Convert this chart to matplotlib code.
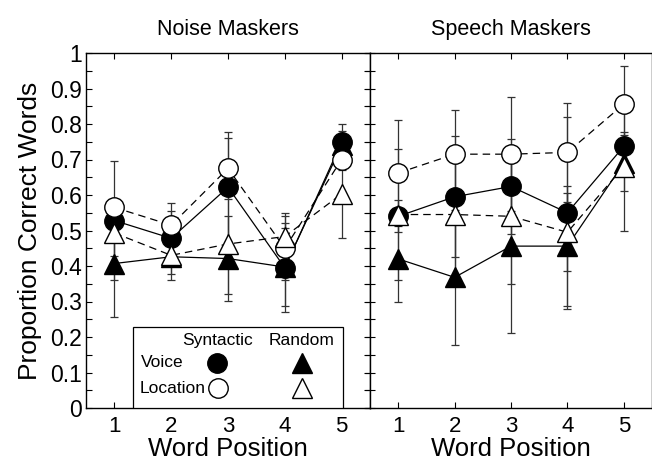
import numpy as np
import matplotlib.pyplot as plt
from matplotlib.ticker import MultipleLocator

plt.rcParams["font.family"] = ["Liberation Sans", "DejaVu Sans"]

positions = [1, 2, 3, 4, 5]

# Noise maskers
noise_voice_syn = [0.528, 0.478, 0.622, 0.395, 0.749]
noise_voice_syn_err = [0.167, 0.10, 0.155, 0.125, 0.05]
noise_loc_syn = [0.565, 0.515, 0.675, 0.45, 0.70]
noise_loc_syn_err = [0.015, 0.04, 0.085, 0.09, 0.03]
noise_voice_rand = [0.407, 0.426, 0.421, 0.397, 0.74]
noise_voice_rand_err = [0.15, 0.065, 0.12, 0.11, 0.04]
noise_loc_rand = [0.493, 0.43, 0.462, 0.483, 0.603]
noise_loc_rand_err = [0.065, 0.03, 0.14, 0.065, 0.125]

# Speech maskers
speech_voice_syn = [0.54, 0.595, 0.624, 0.55, 0.737]
speech_voice_syn_err = [0.045, 0.17, 0.135, 0.27, 0.04]
speech_loc_syn = [0.662, 0.715, 0.715, 0.72, 0.856]
speech_loc_syn_err = [0.15, 0.125, 0.16, 0.14, 0.107]
speech_voice_rand = [0.42, 0.368, 0.456, 0.456, 0.69]
speech_voice_rand_err = [0.12, 0.19, 0.245, 0.17, 0.08]
speech_loc_rand = [0.545, 0.545, 0.54, 0.495, 0.68]
speech_loc_rand_err = [0.185, 0.19, 0.19, 0.11, 0.18]

titles = ["Noise Maskers", "Speech Maskers"]
yticks = [0, 0.1, 0.2, 0.3, 0.4, 0.5, 0.6, 0.7, 0.8, 0.9, 1]
ytick_labels = ["0", "0.1", "0.2", "0.3", "0.4", "0.5", "0.6", "0.7", "0.8", "0.9", "1"]

MS = 14


def draw_panel(ax, vs, vse, ls, lse, vr, vre, lr, lre):
    series = [
        (vs, vse, "o", "black", "-"),
        (vr, vre, "^", "black", "-"),
        (ls, lse, "o", "white", (0, (6, 4))),
        (lr, lre, "^", "white", (0, (6, 4))),
    ]
    for vals, errs, mk, fc, style in series:
        ax.errorbar(positions, vals, yerr=errs, fmt="none", ecolor="#333333",
                    elinewidth=0.9, capsize=3, capthick=0.9, zorder=1)
    for vals, errs, mk, fc, style in series:
        ax.plot(positions, vals, linestyle=style, color="black", linewidth=0.9,
                marker=mk, markersize=MS, markerfacecolor=fc,
                markeredgecolor="black", markeredgewidth=1.0, zorder=3)
    ax.set_xlim(0.5, 5.5)
    ax.set_ylim(0, 1.0)
    ax.set_xticks(positions)
    ax.set_xticklabels([str(p) for p in positions], fontsize=16)
    ax.set_xlabel("Word Position", fontsize=18.5, labelpad=0)
    ax.tick_params(axis="x", direction="in", top=True, length=4, width=0.8, pad=6)
    for s in ax.spines.values():
        s.set_linewidth(1.0)


fig = plt.figure(figsize=(6.52, 4.67), dpi=100)
ax1 = fig.add_axes([86 / 652, 59 / 467, 284 / 652, 355 / 467])
ax2 = fig.add_axes([370 / 652, 59 / 467, 282 / 652, 355 / 467])

draw_panel(ax1, noise_voice_syn, noise_voice_syn_err, noise_loc_syn, noise_loc_syn_err,
           noise_voice_rand, noise_voice_rand_err, noise_loc_rand, noise_loc_rand_err)
draw_panel(ax2, speech_voice_syn, speech_voice_syn_err, speech_loc_syn, speech_loc_syn_err,
           speech_voice_rand, speech_voice_rand_err, speech_loc_rand, speech_loc_rand_err)

ax1.set_yticks(yticks)
ax1.set_yticklabels(ytick_labels, fontsize=16.5)
ax1.yaxis.set_minor_locator(MultipleLocator(0.05))
ax1.tick_params(axis="y", which="both", direction="in", right=True, length=4, width=0.8, pad=3)
ax1.set_ylabel("Proportion Correct Words", fontsize=19, labelpad=6)

ax2.yaxis.set_major_locator(MultipleLocator(0.05))
ax2.tick_params(axis="y", direction="inout", left=True, labelleft=False, length=7, width=0.8)

for ax, t in zip([ax1, ax2], titles):
    ax.set_title(t, fontsize=15.5, pad=13)

# legend box drawn by hand in the left panel
ax1.add_patch(plt.Rectangle((0.165, 0.0), 0.74, 0.228, transform=ax1.transAxes,
                            facecolor="white", edgecolor="black", linewidth=0.9, zorder=5))
ax1.text(0.465, 0.19, "Syntactic", transform=ax1.transAxes, ha="center", va="center",
         fontsize=12.5, zorder=6)
ax1.text(0.76, 0.19, "Random", transform=ax1.transAxes, ha="center", va="center",
         fontsize=12.5, zorder=6)
ax1.text(0.195, 0.127, "Voice", transform=ax1.transAxes, ha="left", va="center",
         fontsize=12.5, zorder=6)
ax1.text(0.19, 0.056, "Location", transform=ax1.transAxes, ha="left", va="center",
         fontsize=12.5, zorder=6)
ax1.plot([0.463], [0.127], "o", color="black", markersize=MS, transform=ax1.transAxes, zorder=6)
ax1.plot([0.761], [0.127], "^", color="black", markersize=MS, transform=ax1.transAxes, zorder=6)
ax1.plot([0.466], [0.056], "o", markerfacecolor="white", markeredgecolor="black",
         markersize=MS, transform=ax1.transAxes, zorder=6)
ax1.plot([0.761], [0.056], "^", markerfacecolor="white", markeredgecolor="black",
         markersize=MS, transform=ax1.transAxes, zorder=6)

fig.savefig("out.png", dpi=100)
